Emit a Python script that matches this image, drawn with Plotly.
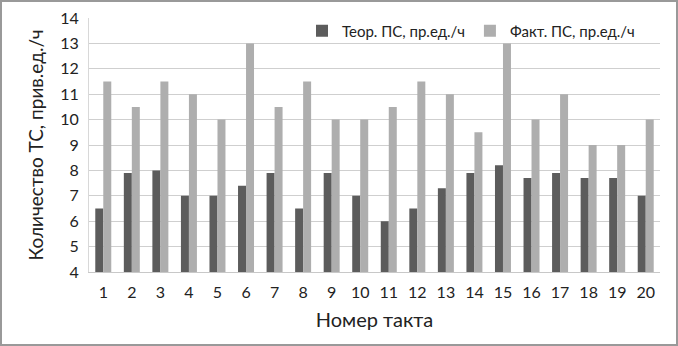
import plotly.graph_objects as go

categories = [str(i) for i in range(1, 21)]
theor = [6.5, 7.9, 8.0, 7.0, 7.0, 7.4, 7.9, 6.5, 7.9, 7.0, 6.0, 6.5, 7.3, 7.9, 8.2, 7.7, 7.9, 7.7, 7.7, 7.0]
fact = [11.5, 10.5, 11.5, 11.0, 10.0, 13.0, 10.5, 11.5, 10.0, 10.0, 10.5, 11.5, 11.0, 9.5, 13.0, 10.0, 11.0, 9.0, 9.0, 10.0]
y_ticks = list(range(4, 15))

PW, PH = 571, 254

fig = go.Figure()
fig.add_trace(go.Bar(x=categories, y=theor, name="Теор. ПС, пр.ед./ч",
                     marker=dict(color="#5c5c5c", line=dict(width=0))))
fig.add_trace(go.Bar(x=categories, y=fact, name="Факт. ПС, пр.ед./ч",
                     marker=dict(color="#aeaeae", line=dict(width=0))))

fig.update_layout(
    width=678, height=346,
    margin=dict(l=89, r=18, t=18, b=74, autoexpand=False),
    paper_bgcolor="white", plot_bgcolor="white",
    barmode="group", bargap=0.44, bargroupgap=0,
    font=dict(family="Lato, Open Sans, sans-serif", color="#222222"),
    showlegend=True,
    legend=dict(orientation="h", x=(640 - 89) / PW, xanchor="right",
                y=(272 - 31) / PH, yanchor="middle",
                bgcolor="rgba(0,0,0,0)", font=dict(size=15, color="#222222"),
                itemwidth=30, traceorder="normal", tracegroupgap=0),
    xaxis=dict(type="category", showgrid=False, showline=True, linecolor="#c8c8c8", linewidth=1,
               ticks="", tickfont=dict(size=16), ticklabelstandoff=6, automargin=False,
               title=dict(text="Номер такта", font=dict(size=20), standoff=12)),
    yaxis=dict(range=[4, 14], tickvals=y_ticks, showgrid=True, gridcolor="#cfcfcf", gridwidth=1,
               showline=True, linecolor="#d8d8d8", zeroline=False, ticks="", automargin=False,
               tickfont=dict(size=16), ticklabelstandoff=6,
               title=dict(text="Количество ТС, прив.ед./ч", font=dict(size=19), standoff=11)),
    shapes=[dict(type="rect", xref="paper", yref="paper",
                 x0=(1 - 89) / PW, x1=(677 - 89) / PW,
                 y0=(272 - 345) / PH, y1=(272 - 1) / PH,
                 line=dict(color="#999999", width=2))],
)
fig.write_html(
    "out.html",
    config={"displayModeBar": False},
    post_script=(
        "document.body.style.margin='0';"
        "document.body.style.overflow='hidden';"
        "document.documentElement.style.overflow='hidden';"
    ),
)
